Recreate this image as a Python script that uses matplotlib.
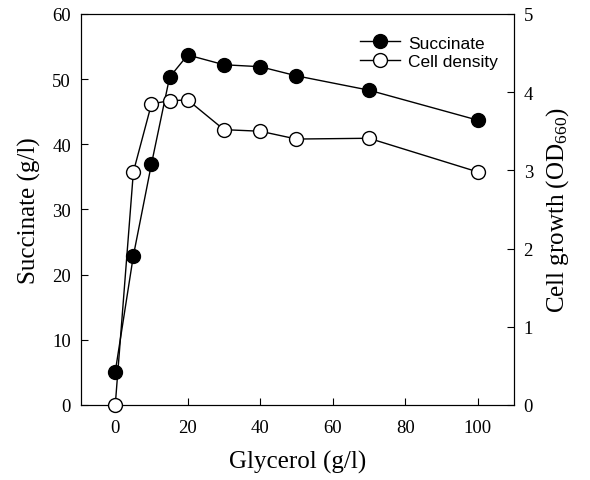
import matplotlib
matplotlib.use("Agg")
import matplotlib.pyplot as plt
from matplotlib.lines import Line2D

# Data
glycerol = [0, 5, 10, 15, 20, 30, 40, 50, 70, 100]
succinate = [5.1, 22.9, 37.0, 50.3, 53.7, 52.2, 51.9, 50.5, 48.3, 43.7]
cell_density = [0.0, 2.98, 3.85, 3.89, 3.90, 3.52, 3.50, 3.40, 3.41, 2.98]

serif = "Liberation Serif"
sans = "Liberation Sans"

plt.rcParams["mathtext.fontset"] = "custom"
plt.rcParams["mathtext.rm"] = serif
plt.rcParams["mathtext.it"] = serif + ":italic"

fig = plt.figure(figsize=(5.9, 4.81), dpi=100)
ax = fig.add_axes([0.137, 0.156, 0.734, 0.813])
ax2 = ax.twinx()

ax.plot(glycerol, succinate, color="black", lw=1.0, marker="o", ms=10,
        markerfacecolor="black", markeredgecolor="black", zorder=3)
ax2.plot(glycerol, cell_density, color="black", lw=1.0, marker="o", ms=10,
         markerfacecolor="white", markeredgecolor="black", zorder=3,
         clip_on=False)

ax.set_xlim(-9.5, 110)
ax.set_ylim(0, 60)
ax2.set_ylim(0, 5)
ax.set_xticks(range(0, 101, 20))
ax.set_yticks(range(0, 61, 10))
ax2.set_yticks(range(0, 6))

ax.tick_params(direction="in", length=5, labelsize=13.5, pad=7)
ax.tick_params(axis="x", pad=10)
ax2.tick_params(direction="in", length=5, labelsize=13.5, pad=7)
for lab in ax.get_xticklabels() + ax.get_yticklabels() + ax2.get_yticklabels():
    lab.set_fontfamily(serif)

ax.set_xlabel("Glycerol (g/l)", fontsize=18, fontfamily=serif, labelpad=10)
ax.set_ylabel("Succinate (g/l)", fontsize=18, fontfamily=serif, labelpad=8)
ax2.set_ylabel(r"Cell growth (OD$_{660}$)", fontsize=18, fontfamily=serif,
               labelpad=8)

handles = [
    Line2D([], [], color="black", lw=1.0, marker="o", ms=10,
           markerfacecolor="black", markeredgecolor="black"),
    Line2D([], [], color="black", lw=1.0, marker="o", ms=10,
           markerfacecolor="white", markeredgecolor="black"),
]
ax2.legend(handles, ["Succinate", "Cell density"], loc="upper right",
           bbox_to_anchor=(1.0, 0.985), frameon=False, handlelength=2.3,
           handletextpad=0.5, labelspacing=0.2,
           prop={"family": sans, "size": 12.5})

fig.savefig("out.png", dpi=100)
